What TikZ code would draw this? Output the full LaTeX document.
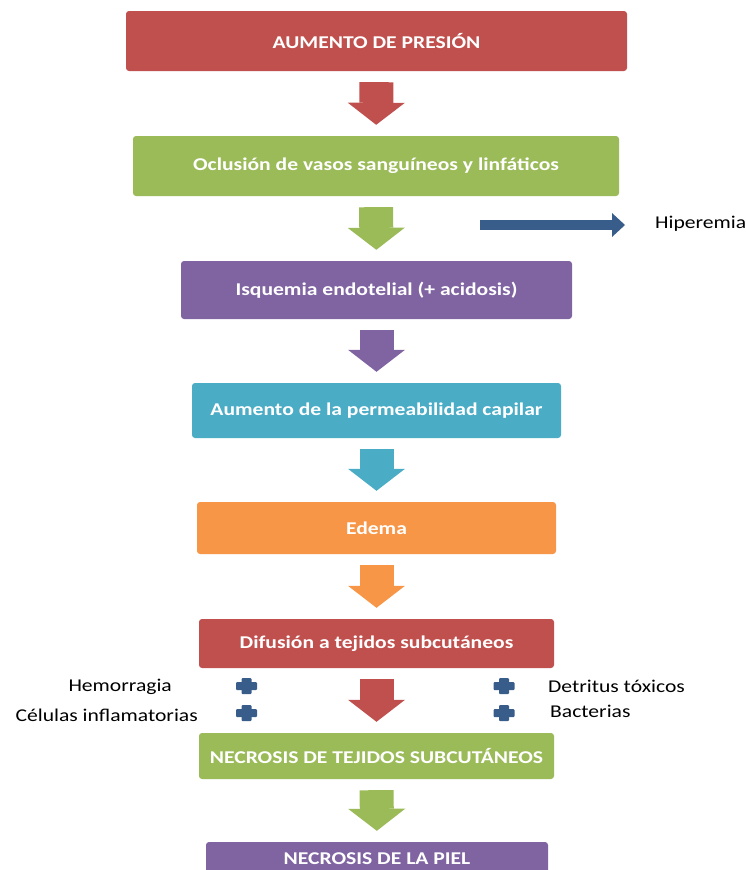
\documentclass[tikz,border=0pt]{standalone}
\usepackage{fontspec}
\setmainfont{Carlito}[FakeStretch=1.2]
\usetikzlibrary{arrows.meta}
\definecolor{boxred}{HTML}{C0504D}
\definecolor{boxgreen}{HTML}{9BBB59}
\definecolor{boxpurple}{HTML}{8064A2}
\definecolor{boxcyan}{HTML}{4BACC6}
\definecolor{boxorange}{HTML}{F79646}
\definecolor{markblue}{HTML}{385D8A}
\begin{document}
\begin{tikzpicture}[x=1pt,y=-1pt]
\tikzstyle{every node}+=[inner sep=0pt]
\tikzstyle{flowbox}=[rounded corners=3pt, text=white, font=\bfseries\fontsize{18}{20}\selectfont]
\tikzstyle{down}=[line width=34pt, -{Triangle[width=57pt,length=22pt,line width=0pt]}, shorten <=11pt, shorten >=11pt]
\tikzstyle{side}=[font=\fontsize{18}{20}\selectfont]
\useasboundingbox (0,0) rectangle (746,870);
\node (pres) at (376.5,41) [flowbox, fill=boxred, minimum width=501pt, minimum height=60pt] {AUMENTO DE PRESIÓN};
\node (oclu) at (376,166) [flowbox, fill=boxgreen, minimum width=486pt, minimum height=60pt] {Oclusión de vasos sanguíneos y linfáticos};
\node (isq) at (376.5,290) [flowbox, fill=boxpurple, minimum width=391pt, minimum height=58pt] {Isquemia endotelial (+ acidosis)};
\node (perm) at (376.5,410.5) [flowbox, fill=boxcyan, minimum width=369pt, minimum height=55pt] {Aumento de la permeabilidad capilar};
\node (edema) at (376.5,528) [flowbox, fill=boxorange, minimum width=359pt, minimum height=52pt] {Edema};
\node (dif) at (376.5,643.5) [flowbox, fill=boxred, minimum width=355pt, minimum height=49pt] {Difusión a tejidos subcutáneos};
\node (nsub) at (376.5,756) [flowbox, fill=boxgreen, minimum width=355pt, minimum height=46pt] {NECROSIS DE TEJIDOS SUBCUTÁNEOS};
\node (npiel) at (377,859) [flowbox, fill=boxpurple, minimum width=342pt, minimum height=34pt] {NECROSIS DE LA PIEL};
\draw [down, boxred] (pres) -- (oclu);
\draw [down, boxgreen] (oclu) -- (isq);
\draw [down, boxpurple] (isq) -- (perm);
\draw [down, boxcyan] (perm) -- (edema);
\draw [down, boxorange] (edema) -- (dif);
\draw [down, boxred] (dif) -- (nsub);
\draw [down, boxgreen] (nsub) -- (npiel);
% side branch
\coordinate (hstart) at (480,225);
\node (hip) at (655,224) [side, anchor=west] {Hiperemia};
\draw [markblue, line width=10pt, -{Triangle[width=24pt,length=13pt,line width=0pt]}, shorten >=30pt] (hstart) -- (hip.west |- hstart);
\node (hem) at (172,687) [side, anchor=east] {Hemorragia};
\node (cel) at (198,715) [side, anchor=east] {Células inflamatorias};
\node (det) at (548,686) [side, anchor=west] {Detritus tóxicos};
\node (bac) at (550,711) [side, anchor=west] {Bacterias};
\foreach \x/\y in {246.5/686, 246.5/713, 504/686, 504/713} {
  \fill [markblue, rounded corners=1pt] (\x-10.5,\y-4) rectangle (\x+10.5,\y+4);
  \fill [markblue, rounded corners=1pt] (\x-5,\y-8) rectangle (\x+5,\y+8);
}
\end{tikzpicture}
\end{document}
